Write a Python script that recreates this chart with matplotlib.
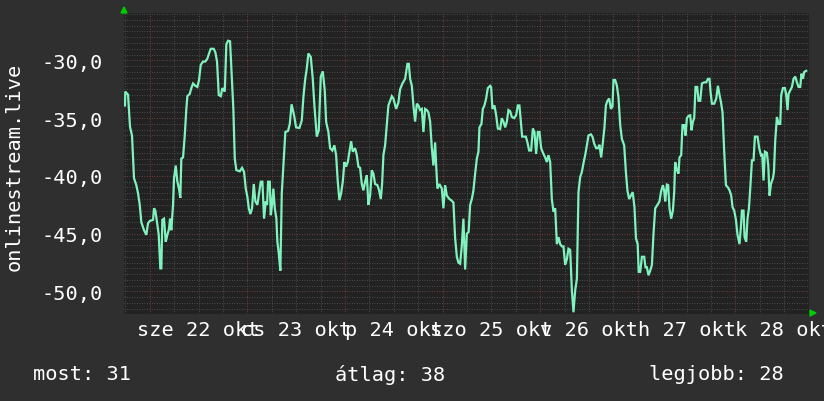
import matplotlib
matplotlib.use("Agg")
import matplotlib.pyplot as plt
from matplotlib.ticker import FixedLocator, NullFormatter
import numpy as np

# hours relative to 22 Oct 00:00
hours = [-6.1, -6.03, -5.36, -4.87, -4.38, -3.89, -3.32, -2.90, -2.48, -2.09, -1.43, -0.86, -0.44, -0.02,
         0.79, 1.03, 1.35, 1.77, 2.19, 2.58, 2.83, 3.08, 3.49, 3.91, 4.31, 4.72, 4.97, 5.29, 5.71, 5.95,
         6.37, 6.77, 7.18, 7.50, 7.75, 8.17, 8.59, 8.98, 9.23, 9.82, 10.21, 10.63, 11.19, 11.69, 12.10,
         12.52, 13.09, 13.65, 14.15, 14.56, 14.98, 15.72, 16.11, 16.53, 16.95, 17.44, 17.84, 18.43, 18.82,
         19.24, 19.73, 20.05, 20.54, 20.89, 21.28, 22.12, 22.68, 23.17, 23.59, 23.99, 24.33, 24.72, 25.14,
         25.56, 25.95, 26.45, 26.86, 27.28, 27.68, 28.09, 28.51, 28.83, 29.08, 29.50, 29.74, 30.06, 30.38,
         30.73, 31.12, 31.37, 31.71, 32.10, 32.45, 32.84, 33.33, 34.00, 34.42, 34.86, 35.47, 35.97, 36.78,
         37.37, 37.76, 38.18, 38.60, 38.99, 39.58, 40.07, 40.47, 41.06, 41.55, 42.04, 42.53, 43.02, 43.35,
         43.91, 44.33, 44.89, 45.39, 45.81, 46.22, 46.62, 47.04, 47.45, 47.85, 48.26, 48.68, 49.08, 49.50,
         49.91, 50.48, 50.90, 51.29, 51.71, 52.13, 52.52, 52.94, 53.36, 53.75, 54.17, 54.59, 54.98, 55.40,
         55.97, 56.38, 56.80, 57.12, 57.44, 57.86, 58.28, 58.67, 59.09, 59.51, 59.90, 60.57, 61.13, 61.55,
         62.12, 62.78, 63.35, 63.69, 64.01, 64.43, 64.82, 65.24, 65.66, 66.05, 66.47, 66.89, 67.28, 67.70,
         68.12, 68.51, 68.93, 69.35, 69.74, 70.16, 70.41, 70.73, 71.22, 71.81, 72.20, 72.62, 73.04, 73.67,
         74.09, 74.66, 75.08, 75.50, 75.89, 76.31, 76.73, 77.12, 77.54, 77.96, 78.40, 78.77, 79.19, 79.58,
         80.00, 80.42, 80.81, 81.06, 81.55, 81.89, 82.28, 82.70, 83.12, 83.69, 83.93, 84.25, 84.75, 85.17,
         85.58, 86.15, 86.56, 86.96, 87.38, 87.80, 88.19, 88.61, 89.03, 89.59, 90.08, 90.50, 90.89, 91.24,
         91.56, 92.05, 92.47, 92.86, 93.28, 93.77, 94.19, 94.59, 95.00, 95.42, 95.82, 96.23, 96.80, 97.22,
         97.63, 98.03, 98.45, 98.86, 99.26, 99.68, 100.10, 100.49, 100.91, 101.33, 101.72, 102.14, 102.56,
         102.95, 103.37, 103.79, 104.18, 104.60, 105.02, 105.41, 105.83, 106.25, 106.64, 107.06, 107.48,
         107.87, 108.46, 108.85, 109.27, 109.76, 110.18, 110.57, 110.99, 111.41, 111.80, 112.15, 112.54,
         112.96, 113.38, 113.77, 114.02, 114.44, 114.86, 115.25, 115.67, 116.09, 116.65, 117.07, 117.46,
         117.88, 118.30, 118.74, 119.18, 119.55, 119.97, 120.22, 120.59, 121.01, 121.57, 121.89, 122.23,
         122.63, 123.05, 123.47, 123.86, 124.28, 124.84, 125.33, 125.75, 126.17, 126.49, 126.74, 127.15,
         127.47, 127.79, 128.21, 128.63, 128.95, 129.19, 129.61, 130.01, 130.25, 130.67, 130.99, 131.41,
         131.73, 132.07, 132.47, 132.89, 133.21, 133.55, 133.87, 134.19, 134.61, 134.93, 135.35, 135.76,
         136.33, 136.83, 137.24, 137.63, 137.88, 138.23, 138.79, 139.29, 139.70, 140.10, 140.44, 140.84,
         141.25, 141.67, 142.16, 142.56, 142.97, 143.29, 143.71, 144.13, 144.52, 145.01, 145.36, 145.60,
         146.00, 146.25, 146.66, 146.98, 147.33, 147.65, 148.07, 148.46, 148.80, 149.44, 149.86, 150.27,
         150.59, 150.92, 151.26, 151.75, 152.08, 152.40, 152.74, 153.23, 153.48, 153.80, 154.21, 154.61,
         155.03, 155.27, 155.69, 156.18, 156.50, 156.82, 157.07, 157.49, 157.90, 158.30, 158.72, 159.13,
         159.53, 159.94, 160.26, 160.61, 160.93, 161.42]

rank = [-33.9, -32.7, -32.97, -35.76, -36.5, -40.2, -40.8, -41.5, -42.5, -44.0, -44.7, -45.1, -44.1, -43.9,
        -43.8, -42.8, -43.0, -44.0, -45.1, -48.0, -48.0, -43.8, -43.7, -45.7, -45.1, -44.6, -43.7, -44.7, -42.5, -40.2,
        -39.1, -40.5, -41.1, -41.9, -38.5, -38.4, -36.5, -34.2, -33.1, -32.9, -32.4, -32.0, -32.2, -32.3, -31.7,
        -30.4, -30.1, -30.1, -29.85, -29.4, -29.0, -29.0, -29.3, -30.1, -33.0, -33.1, -32.4, -32.7, -28.6,
        -28.3, -28.35, -30.7, -34.2, -38.5, -39.5, -39.6, -39.3, -39.65, -41.1, -41.8, -42.8, -43.3, -42.8,
        -40.7, -42.2, -42.5, -41.5, -40.5, -40.5, -43.7, -42.2, -42.5, -40.5, -40.5, -43.4, -42.5, -41.1,
        -42.8, -43.7, -45.7, -46.7, -48.2, -41.5, -39.1, -36.2, -36.1, -35.5, -33.8, -34.75, -35.8, -35.85,
        -35.2, -33.2, -31.7, -30.7, -29.4, -29.7, -31.6, -33.9, -36.6, -36.05, -31.4, -30.95, -32.6, -35.3,
        -36.2, -37.6, -37.8, -37.35, -38.2, -40.5, -42.1, -41.5, -40.5, -38.8, -39.2, -38.8, -37.9, -37.0,
        -37.9, -37.6, -38.2, -39.2, -39.3, -40.7, -41.25, -40.5, -39.95, -42.5, -41.7, -39.5, -39.8, -40.7,
        -40.8, -41.25, -42.0, -40.7, -38.2, -37.35, -35.6, -33.9, -33.5, -33.1, -33.3, -34.2, -33.65, -32.5,
        -32.0, -31.6, -30.3, -30.3, -31.6, -32.2, -33.9, -35.3, -33.75, -33.9, -34.3, -34.2, -36.2, -34.2,
        -34.3, -34.5, -35.3, -37.6, -39.1, -37.1, -39.1, -41.1, -40.7, -41.1, -42.8, -40.8, -41.7, -42.0,
        -42.1, -42.3, -45.4, -47.0, -47.5, -47.6, -46.0, -43.7, -48.1, -45.0, -44.85, -42.5, -42.0, -41.25,
        -39.8, -38.5, -37.9, -35.8, -35.5, -34.2, -33.9, -33.3, -32.4, -32.2, -32.3, -34.2, -33.9, -34.75,
        -35.9, -35.95, -35.0, -35.3, -35.8, -35.3, -34.3, -34.4, -34.9, -35.0, -34.75, -33.9, -33.9, -35.3,
        -36.6, -36.6, -36.6, -37.1, -37.8, -37.8, -35.9, -36.2, -38.1, -36.2, -36.2, -37.6, -38.1, -38.4,
        -38.8, -38.2, -38.8, -42.0, -43.1, -42.8, -45.9, -45.3, -45.9, -46.1, -46.1, -47.7, -47.2,
        -46.3, -46.4, -49.9, -51.8, -49.9, -48.9, -41.4, -40.1, -39.65, -38.9, -38.2, -37.35,
        -36.5, -36.4, -36.6, -37.2, -37.6, -37.6, -37.3, -38.4, -37.1, -35.8, -33.9, -33.5,
        -33.3, -34.2, -34.0, -31.7, -31.7, -32.2, -33.2, -35.6, -36.8, -37.35, -39.65, -41.3,
        -42.0, -41.7, -41.4, -42.7, -45.4, -45.9, -48.3, -48.3, -47.0, -47.0, -47.9, -47.9,
        -48.6, -48.2, -47.7, -45.0, -42.8, -42.5, -42.2, -41.3, -40.8, -41.3, -42.2, -40.75,
        -40.8, -42.8, -43.7, -43.0, -41.4, -38.8, -39.5, -39.8, -38.4, -38.2, -35.6, -35.6,
        -36.5, -35.0, -34.8, -34.75, -36.05, -35.3, -35.0, -32.3, -32.3, -33.5, -33.5, -32.0,
        -31.9, -31.9, -31.6, -31.6, -32.7, -33.75, -33.75, -33.3, -32.2, -33.0, -33.6, -34.5,
        -37.9, -40.8, -41.0, -41.25, -41.7, -42.7, -43.0, -43.8, -45.1, -45.9, -44.4, -43.0,
        -43.0, -45.3, -45.7, -43.7, -42.8, -41.1, -38.65, -38.65, -36.6, -36.6, -37.6, -38.2,
        -38.1, -40.4, -37.9, -38.0, -39.1, -41.7, -40.7, -40.2, -39.65, -36.9, -34.9, -35.5,
        -35.5, -33.0, -32.4, -32.4, -33.0, -34.3, -32.9, -32.6, -32.3, -31.6, -31.4, -31.9,
        -32.3, -32.3, -31.15, -31.6, -31.0, -30.9]

day_labels = ["sze 22 okt", "cs 23 okt", "p 24 okt", "szo 25 okt", "v 26 okt", "h 27 okt", "k 28 okt"]
label_hours = [12, 36, 60, 84, 108, 132, 156]
midnight_hours = [0, 24, 48, 72, 96, 120, 144]
y_major = [-50, -45, -40, -35, -30]
y_label = "onlinestream.live"
summary = [("most", 31), ("átlag", 38), ("legjobb", 28)]

FIG_BG = "#2f2f2f"
AX_BG = "#222222"
LINE = "#7ff2bd"
MONO = "DejaVu Sans Mono"
FS = 14.6

fig = plt.figure(figsize=(8.24, 4.02), dpi=100, facecolor=FIG_BG)
W, H = 824, 402
ax = fig.add_axes([124 / W, 1 - 315 / H, (809 - 124) / W, (315 - 14) / H])
ax.set_facecolor(AX_BG)

ax.set_xlim(-6.35, 162.1)
ax.set_ylim(-51.95, -25.9)

dot = (0, (1, 2))
ax.xaxis.set_minor_locator(FixedLocator(list(np.arange(-6, 163, 6))))
ax.yaxis.set_minor_locator(FixedLocator(list(np.arange(-51.5, -25.9, 0.5))))
ax.xaxis.set_major_locator(FixedLocator(midnight_hours))
ax.yaxis.set_major_locator(FixedLocator(y_major))
ax.grid(which="minor", color="#5a5a5a", linestyle=dot, linewidth=0.6)
ax.grid(which="major", color="#8a4848", linestyle=dot, linewidth=0.6)
ax.set_axisbelow(True)

ax.xaxis.set_major_formatter(NullFormatter())
ax.tick_params(axis="both", which="both", length=0)
ax.set_yticklabels([f"{v:.1f}".replace(".", ",") for v in y_major],
                   fontfamily=MONO, fontsize=FS, color="white")
ax.tick_params(axis="y", pad=15)

for s in ax.spines.values():
    s.set_visible(False)

ax.plot(hours, rank, color=LINE, linewidth=1.6, solid_joinstyle="miter", zorder=3)

for h, lab in zip(label_hours, day_labels):
    ax.text(h, -0.05, lab, transform=ax.get_xaxis_transform(), ha="center", va="center",
            fontfamily=MONO, fontsize=FS, color="white", clip_on=False)

fig.text(14 / W, 1 - 167 / H, y_label, rotation=90, ha="center", va="center",
         fontfamily=MONO, fontsize=FS, color="white")

pos = [(33, "left"), (335, "left"), (649, "left")]
for (px, ha), (name, val) in zip(pos, summary):
    fig.text(px / W, 1 - 375 / H, f"{name}: {val}", ha=ha, va="center",
             fontfamily=MONO, fontsize=FS, color="white")

# axis arrows
fig.patches.append(plt.Polygon([[121 / W, 1 - 14 / H], [127 / W, 1 - 14 / H], [124 / W, 1 - 8 / H]],
                               closed=True, transform=fig.transFigure, color="#00cc00"))
fig.patches.append(plt.Polygon([[810 / W, 1 - 311 / H], [810 / W, 1 - 317 / H], [816 / W, 1 - 314 / H]],
                               closed=True, transform=fig.transFigure, color="#00cc00"))

fig.savefig("out.png", dpi=100, facecolor=FIG_BG)
